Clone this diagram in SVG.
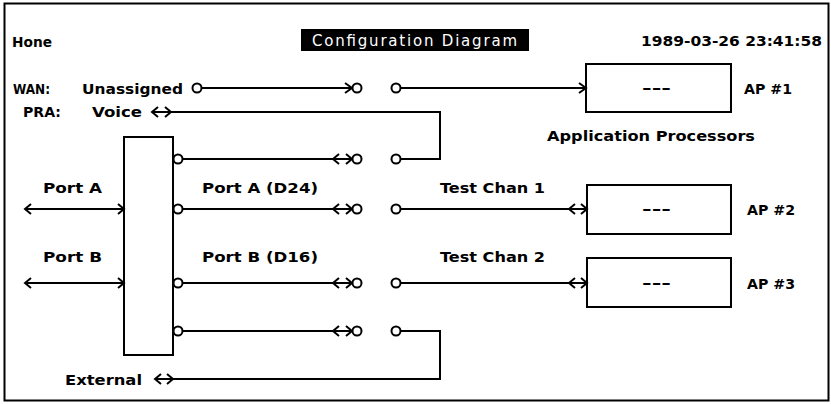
<svg xmlns="http://www.w3.org/2000/svg" width="831" height="404" viewBox="0 0 831 404">
<style>
.t{font-family:"DejaVu Sans","Liberation Sans",sans-serif;font-weight:bold;font-size:14px;fill:#000}
.w{font-family:"DejaVu Sans","Liberation Sans",sans-serif;font-size:15px;fill:#fff}
.ln{fill:none;stroke:#000;stroke-width:2}
.bx{fill:#fff;stroke:#000;stroke-width:2}
.c{fill:#fff;stroke:#000;stroke-width:2}
</style>
<rect x="0" y="0" width="831" height="404" fill="#fff"/>
<rect x="4.5" y="3.5" width="824" height="397" class="ln"/>
<g id="header">
<text class="t" x="12" y="47" textLength="40" lengthAdjust="spacingAndGlyphs">Hone</text>
<rect x="301" y="29" width="228" height="22" fill="#000"/>
<text class="w" x="312" y="46" textLength="205">Configuration Diagram</text>
<text class="t" x="641" y="46" textLength="181" lengthAdjust="spacingAndGlyphs">1989-03-26 23:41:58</text>
</g>
<g id="labels">
<text class="t" x="13" y="94" textLength="37" lengthAdjust="spacingAndGlyphs">WAN:</text>
<text class="t" x="82" y="94" textLength="101" lengthAdjust="spacingAndGlyphs">Unassigned</text>
<text class="t" x="23" y="117" textLength="38" lengthAdjust="spacingAndGlyphs">PRA:</text>
<text class="t" x="92" y="117" textLength="50" lengthAdjust="spacingAndGlyphs">Voice</text>
<text class="t" x="547" y="141" textLength="208" lengthAdjust="spacingAndGlyphs">Application Processors</text>
<text class="t" x="43" y="193" textLength="59" lengthAdjust="spacingAndGlyphs">Port A</text>
<text class="t" x="202" y="193" textLength="116" lengthAdjust="spacingAndGlyphs">Port A (D24)</text>
<text class="t" x="440" y="193" textLength="105" lengthAdjust="spacingAndGlyphs">Test Chan 1</text>
<text class="t" x="43" y="262" textLength="59" lengthAdjust="spacingAndGlyphs">Port B</text>
<text class="t" x="202" y="262" textLength="116" lengthAdjust="spacingAndGlyphs">Port B (D16)</text>
<text class="t" x="440" y="262" textLength="105" lengthAdjust="spacingAndGlyphs">Test Chan 2</text>
<text class="t" x="65" y="385" textLength="77" lengthAdjust="spacingAndGlyphs">External</text>
</g>
<g id="mux">
<rect x="124" y="137" width="49" height="218" class="bx"/>
</g>
<g id="ap1">
<rect x="586" y="64" width="145" height="48" class="bx"/>
<text class="t" x="642" y="93" textLength="29" lengthAdjust="spacingAndGlyphs">---</text>
<text class="t" x="744" y="94" textLength="48" lengthAdjust="spacingAndGlyphs">AP #1</text>
</g>
<g id="ap2">
<rect x="587" y="185" width="144" height="49" class="bx"/>
<text class="t" x="642" y="214" textLength="29" lengthAdjust="spacingAndGlyphs">---</text>
<text class="t" x="747" y="215" textLength="48" lengthAdjust="spacingAndGlyphs">AP #2</text>
</g>
<g id="ap3">
<rect x="587" y="258" width="144" height="49" class="bx"/>
<text class="t" x="642" y="288" textLength="29" lengthAdjust="spacingAndGlyphs">---</text>
<text class="t" x="747" y="289" textLength="48" lengthAdjust="spacingAndGlyphs">AP #3</text>
</g>
<g id="connectors">
<line x1="202" y1="88" x2="352" y2="88" class="ln"/>
<polyline points="345,83 352,88 345,93" class="ln"/>
<line x1="401" y1="88" x2="586" y2="88" class="ln"/>
<polyline points="579,83 586,88 579,93" class="ln"/>
<polyline points="152,112 440,112 440,159 401,159" class="ln"/>
<polyline points="158,107 152,112 158,117" class="ln"/>
<polyline points="165,107 171,112 165,117" class="ln"/>
<polyline points="155,379 440,379 440,331 401,331" class="ln"/>
<polyline points="161,374 155,379 161,384" class="ln"/>
<polyline points="167,374 173,379 167,384" class="ln"/>
<line x1="182" y1="159" x2="352" y2="159" class="ln"/>
<polyline points="339,154 333,159 339,164" class="ln"/>
<polyline points="346,154 352,159 346,164" class="ln"/>
<line x1="182" y1="209" x2="352" y2="209" class="ln"/>
<polyline points="339,204 333,209 339,214" class="ln"/>
<polyline points="346,204 352,209 346,214" class="ln"/>
<line x1="182" y1="283" x2="352" y2="283" class="ln"/>
<polyline points="339,278 333,283 339,288" class="ln"/>
<polyline points="346,278 352,283 346,288" class="ln"/>
<line x1="182" y1="331" x2="352" y2="331" class="ln"/>
<polyline points="339,326 333,331 339,336" class="ln"/>
<polyline points="346,326 352,331 346,336" class="ln"/>
<line x1="401" y1="209" x2="587" y2="209" class="ln"/>
<polyline points="575,204 569,209 575,214" class="ln"/>
<polyline points="581,204 587,209 581,214" class="ln"/>
<line x1="401" y1="283" x2="587" y2="283" class="ln"/>
<polyline points="575,278 569,283 575,288" class="ln"/>
<polyline points="581,278 587,283 581,288" class="ln"/>
<line x1="25" y1="209" x2="124" y2="209" class="ln"/>
<polyline points="31,204 25,209 31,214" class="ln"/>
<polyline points="118,204 124,209 118,214" class="ln"/>
<line x1="25" y1="283" x2="124" y2="283" class="ln"/>
<polyline points="31,278 25,283 31,288" class="ln"/>
<polyline points="118,278 124,283 118,288" class="ln"/>
<circle cx="197" cy="88" r="4.5" class="c"/>
<circle cx="357" cy="88" r="4.5" class="c"/>
<circle cx="396" cy="88" r="4.5" class="c"/>
<circle cx="178" cy="159" r="4.5" class="c"/>
<circle cx="357" cy="159" r="4.5" class="c"/>
<circle cx="396" cy="159" r="4.5" class="c"/>
<circle cx="178" cy="209" r="4.5" class="c"/>
<circle cx="357" cy="209" r="4.5" class="c"/>
<circle cx="396" cy="209" r="4.5" class="c"/>
<circle cx="178" cy="283" r="4.5" class="c"/>
<circle cx="357" cy="283" r="4.5" class="c"/>
<circle cx="396" cy="283" r="4.5" class="c"/>
<circle cx="178" cy="331" r="4.5" class="c"/>
<circle cx="357" cy="331" r="4.5" class="c"/>
<circle cx="396" cy="331" r="4.5" class="c"/>
</g>
</svg>
